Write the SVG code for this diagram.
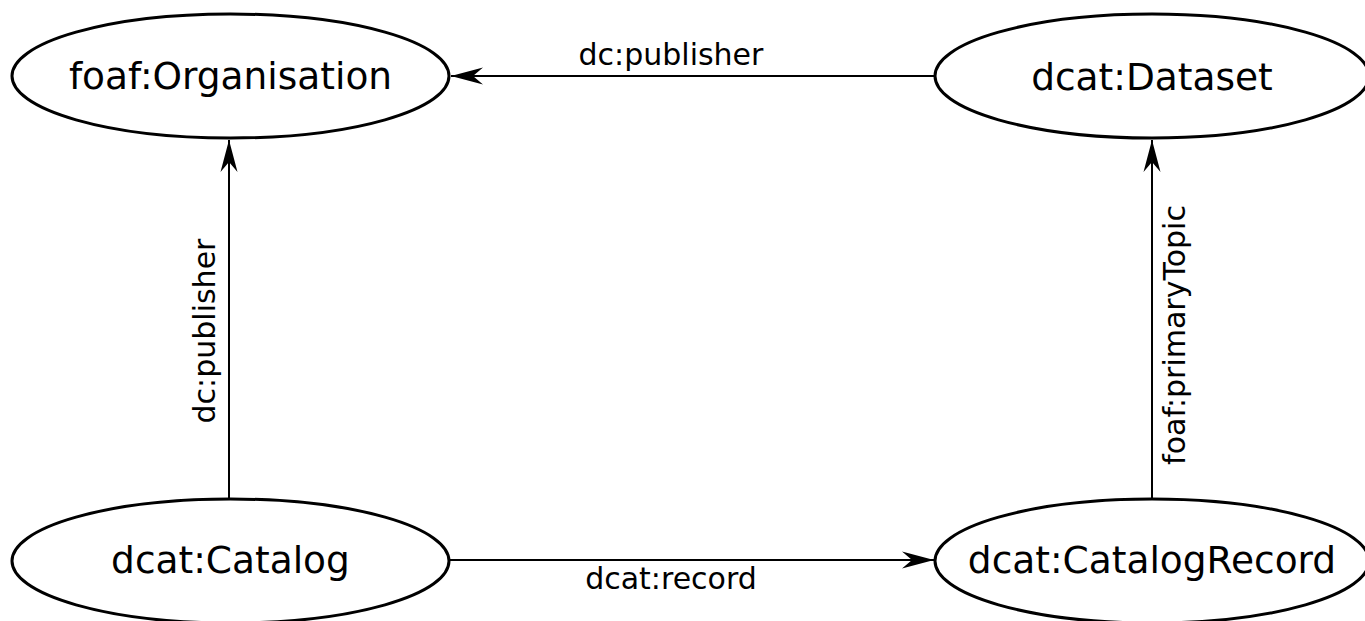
<svg xmlns="http://www.w3.org/2000/svg" width="1365" height="621" viewBox="0 0 1365 621">
  <style>
    .node ellipse { fill: #ffffff; stroke: #000000; stroke-width: 3; }
    .node text { font-family: "DejaVu Sans", sans-serif; font-size: 37.5px; text-anchor: middle; fill: #000000; }
    .edge line { stroke: #000000; stroke-width: 2; }
    .edge text { font-family: "DejaVu Sans", sans-serif; font-size: 30px; text-anchor: middle; fill: #000000; }
  </style>
  <defs>
    <marker id="arrow" viewBox="-33 -10 34 20" refX="0" refY="0" markerUnits="userSpaceOnUse" markerWidth="34" markerHeight="20" orient="auto">
      <path d="M0,0 L-32,-8.5 L-22,0 L-32,8.5 Z" fill="#000000"/>
    </marker>
  </defs>

  <g id="connectors">
    <g class="edge" id="dataset-publisher">
      <line x1="935" y1="76" x2="451" y2="76" marker-end="url(#arrow)"/>
      <text x="671" y="65">dc:publisher</text>
    </g>
    <g class="edge" id="catalog-publisher">
      <line x1="229" y1="499" x2="229" y2="140" marker-end="url(#arrow)"/>
      <text transform="translate(215,331) rotate(-90)">dc:publisher</text>
    </g>
    <g class="edge" id="record-primarytopic">
      <line x1="1152" y1="499" x2="1152" y2="140" marker-end="url(#arrow)"/>
      <text transform="translate(1185,335) rotate(-90)">foaf:primaryTopic</text>
    </g>
    <g class="edge" id="catalog-record">
      <line x1="449" y1="560" x2="934" y2="560" marker-end="url(#arrow)"/>
      <text x="671" y="589">dcat:record</text>
    </g>
  </g>

  <g class="node" id="organisation">
    <ellipse cx="230.5" cy="76" rx="218.5" ry="62"/>
    <text x="230.5" y="89">foaf:Organisation</text>
  </g>
  <g class="node" id="dataset">
    <ellipse cx="1152" cy="76" rx="217" ry="62"/>
    <text x="1152" y="90">dcat:Dataset</text>
  </g>
  <g class="node" id="catalog">
    <ellipse cx="230.5" cy="561" rx="218.5" ry="62"/>
    <text x="230.5" y="573">dcat:Catalog</text>
  </g>
  <g class="node" id="catalogrecord">
    <ellipse cx="1152" cy="561" rx="217" ry="62"/>
    <text x="1152" y="573">dcat:CatalogRecord</text>
  </g>
</svg>
